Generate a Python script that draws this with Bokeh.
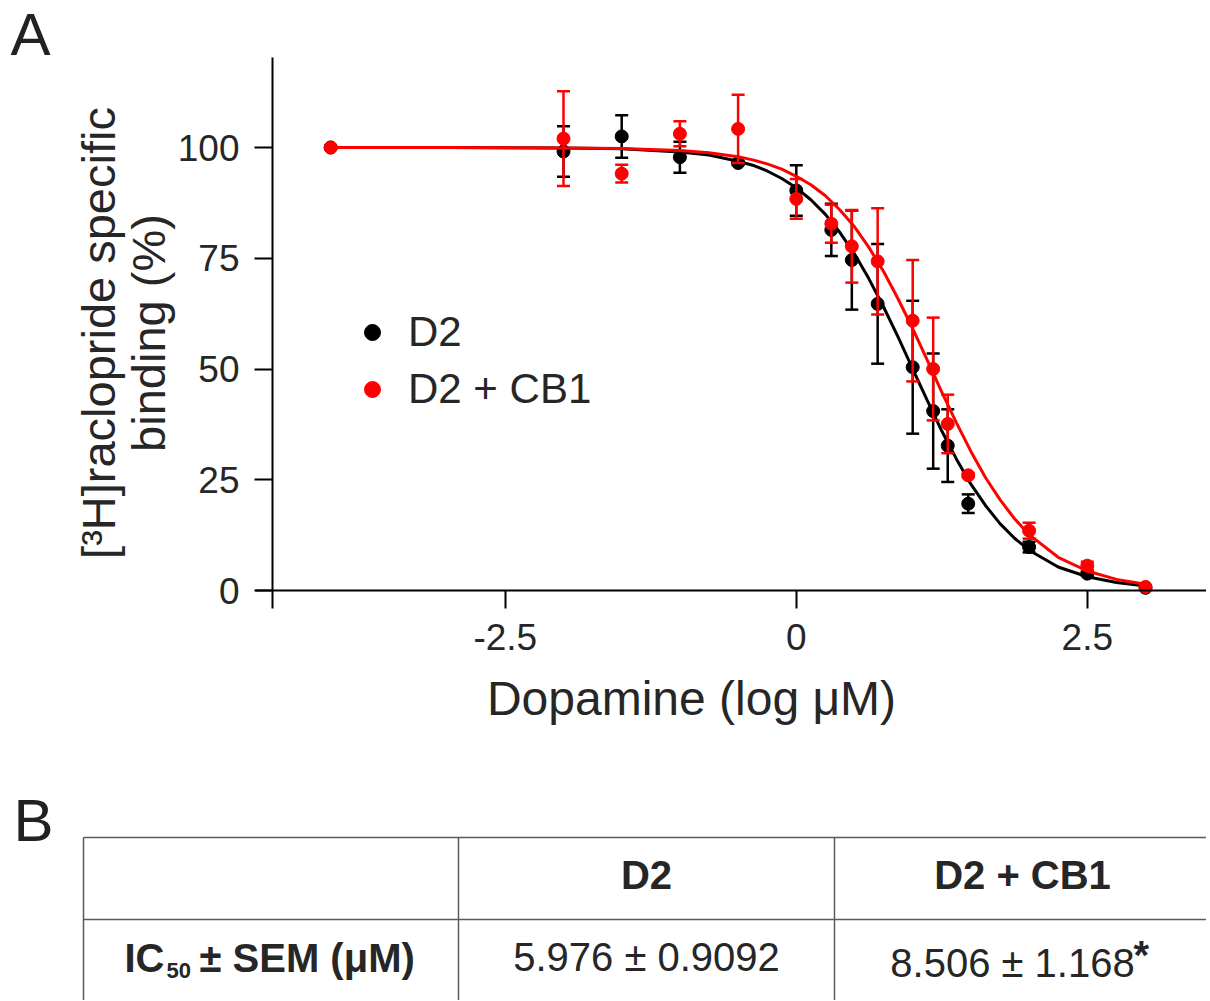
from bokeh.plotting import figure
from bokeh.models import (Range1d, FixedTicker, ColumnDataSource, Legend, LegendItem)
from bokeh.embed import file_html
from bokeh.resources import INLINE
from bokeh.core.properties import value

# ---------------- data ----------------
log_dopamine = [-4, -2, -1.5, -1, -0.5, 0, 0.301, 0.477, 0.699, 1.0, 1.176, 1.301, 1.477, 2.0, 2.5, 3.0]
d2_mean = [100, 99.1, 102.5, 97.8, 96.5, 90.3, 81.4, 74.6, 64.7, 50.4, 40.5, 32.7, 19.6, 9.8, 3.8, 0.6]
d2_sem = [0, 5.7, 4.8, 3.5, 0.4, 5.7, 5.9, 11.2, 13.5, 15.0, 13.0, 8.2, 2.1, 1.2, 0.5, 0.3]
cb1_mean = [100, 102.0, 94.1, 103.1, 104.2, 88.4, 82.8, 77.7, 74.3, 60.9, 50.0, 37.6, 26.0, 13.5, 5.6, 0.8]
cb1_sem = [0, 10.7, 2.0, 2.8, 7.7, 4.5, 4.3, 8.2, 12.0, 13.7, 11.6, 6.6, 0.4, 1.8, 0.9, 0.3]

fit_log_dopamine = [-4, -3, -2, -1.5, -1, -0.75, -0.5, -0.375, -0.25, -0.125, 0, 0.125, 0.25,
                    0.375, 0.5, 0.625, 0.75, 0.875, 1.0, 1.125, 1.25, 1.375, 1.5, 1.625, 1.75,
                    1.875, 2.0, 2.25, 2.5, 2.75, 3.0]
d2_fit = [100, 100, 99.9, 99.7, 99.0, 98.3, 96.9, 96.0, 94.7, 93.0, 90.9, 88.2, 84.9,
          80.8, 76.0, 70.3, 64.0, 57.2, 50.0, 42.9, 36.0, 29.7, 24.0, 19.2, 15.1,
          11.8, 9.1, 5.3, 3.1, 1.8, 1.0]
cb1_fit = [100, 100, 99.9, 99.8, 99.3, 98.8, 97.9, 97.2, 96.3, 95.1, 93.5, 91.6, 89.1,
           85.9, 82.1, 77.4, 72.0, 65.8, 59.1, 52.0, 44.8, 37.9, 31.4, 25.5, 20.5,
           16.2, 12.6, 7.5, 4.4, 2.5, 1.4]

series_labels = ["D2", "D2 + CB1"]
x_ticks = [-2.5, 0, 2.5]
x_tick_labels = {-2.5: "-2.5", 0: "0", 2.5: "2.5"}
y_ticks = [0, 25, 50, 75, 100]
x_title = "Dopamine (log \u03bcM)"
y_title = "[\u00b3H]raclopride specific\nbinding (%)"

table_header = ["", "D2", "D2 + CB1"]
row_label_parts = ["IC", "50", "\u00b1 SEM (\u03bcM)"]
ic50_text = ["5.976 \u00b1 0.9092", "8.506 \u00b1 1.168"]
ic50_marks = ["", "*"]

FONT = "Liberation Sans"
TXT = "#262626"
RED = "#ff0000"
BLACK = "#000000"

W, H = 1206, 1000
# page geometry (pixels) -> data ranges
X0_PX, X_PX_PER_UNIT = 795.8, 116.4
Y0_PX, Y_PX_PER_UNIT = 590.0, 4.43

p = figure(width=W, height=H, output_backend="svg", toolbar_location=None,
           x_range=Range1d(-X0_PX / X_PX_PER_UNIT, (W - X0_PX) / X_PX_PER_UNIT),
           y_range=Range1d((Y0_PX - H) / Y_PX_PER_UNIT, Y0_PX / Y_PX_PER_UNIT),
           min_border=0)
p.extra_x_ranges["page"] = Range1d(0, W)
p.extra_y_ranges["page"] = Range1d(H, 0)
p.outline_line_color = None
p.grid.visible = False
p.background_fill_color = "white"
p.border_fill_color = "white"

# x axis
xa = p.xaxis[0]
xa.fixed_location = 0
xa.bounds = (-4.646, (W - X0_PX) / X_PX_PER_UNIT)
xa.ticker = FixedTicker(ticks=x_ticks)
xa.major_label_overrides = x_tick_labels
xa.minor_tick_line_color = None
xa.major_tick_in = 0
xa.major_tick_out = 18
xa.major_tick_line_width = 2
xa.axis_line_width = 2
xa.axis_line_color = BLACK
xa.major_tick_line_color = BLACK
xa.major_label_standoff = 15
xa.major_label_text_font = FONT
xa.major_label_text_font_size = "37px"
xa.major_label_text_color = TXT

# y axis
ya = p.yaxis[0]
ya.fixed_location = -4.5
ya.bounds = (-18 / Y_PX_PER_UNIT, 120.3)
ya.ticker = FixedTicker(ticks=y_ticks)
ya.minor_tick_line_color = None
ya.axis_line_width = 2
ya.axis_line_color = BLACK
ya.major_tick_in = 0
ya.major_tick_out = 18
ya.major_tick_line_width = 2
ya.major_tick_line_color = BLACK
ya.major_label_standoff = 15
ya.major_label_text_font = FONT
ya.major_label_text_font_size = "37px"
ya.major_label_text_color = TXT
ya.axis_label = y_title
ya.axis_label_text_font = FONT
ya.axis_label_text_font_size = "47px"
ya.axis_label_text_font_style = "normal"
ya.axis_label_text_color = TXT
ya.axis_label_text_line_height = 0.93
ya.axis_label_standoff = 0


def lower(m, s):
    return [a - b for a, b in zip(m, s)]


def upper(m, s):
    return [a + b for a, b in zip(m, s)]


renderers = []
for mean, sem, fit, col in [(d2_mean, d2_sem, d2_fit, BLACK), (cb1_mean, cb1_sem, cb1_fit, RED)]:
    src = ColumnDataSource(dict(x=log_dopamine, y=mean, lo=lower(mean, sem), hi=upper(mean, sem)))
    p.segment(x0="x", y0="lo", x1="x", y1="hi", source=src, line_color=col, line_width=2.5)
    p.scatter(x="x", y="lo", source=src, marker="dash", size=13, line_color=col, line_width=2.5)
    p.scatter(x="x", y="hi", source=src, marker="dash", size=13, line_color=col, line_width=2.5)
    p.line(fit_log_dopamine, fit, line_color=col, line_width=3)
    r = p.scatter(x="x", y="y", source=src, marker="circle", size=13,
                  fill_color=col, line_color=col, line_width=1)
    renderers.append(r)

legend = Legend(items=[LegendItem(label=series_labels[0], renderers=[renderers[0]]),
                       LegendItem(label=series_labels[1], renderers=[renderers[1]])],
                location=(352, H - 413), orientation="vertical",
                glyph_width=40, glyph_height=40, label_height=40, label_standoff=16,
                spacing=9, padding=0, margin=0,
                border_line_color=None, background_fill_alpha=0,
                label_text_font=FONT, label_text_font_size="42px", label_text_color=TXT)
p.add_layout(legend)

PAGE = dict(x_range_name="page", y_range_name="page")

# x-axis title (positioned as in the original figure)
p.text(x=[691], y=[698], text=[x_title], text_font=value(FONT), text_font_size="48px",
       text_color=TXT, text_align="center", text_baseline="middle", **PAGE)

# panel letters
p.text(x=[10, 13], y=[34, 820], text=["A", "B"], text_font=value(FONT), text_font_size="60px",
       text_color="#222222", text_align="left", text_baseline="middle", **PAGE)

# ---------------- table (page pixel coordinates) ----------------
row_top, row_mid, row_bot = 837, 919, 1010
col_edges = [83, 458, 834, 1215]
p.segment(x0=[col_edges[0]] * 2, y0=[row_top, row_mid], x1=[col_edges[-1]] * 2, y1=[row_top, row_mid],
          line_color="#5a5a5a", line_width=1.5, **PAGE)
p.segment(x0=col_edges, y0=[row_top] * 4, x1=col_edges, y1=[row_bot] * 4,
          line_color="#5a5a5a", line_width=1.5, **PAGE)

col_centers = [270.5, 646, 1022]
p.text(x=col_centers[1:], y=[874, 874], text=table_header[1:], text_font=value(FONT),
       text_font_size="40px", text_font_style="bold", text_color=TXT,
       text_align="center", text_baseline="middle", **PAGE)
# row label: IC + subscript 50 + rest
p.text(x=[124, 199], y=[957, 957], text=[row_label_parts[0], row_label_parts[2]],
       text_font=value(FONT), text_font_size="40px", text_font_style="bold", text_color=TXT,
       text_align="left", text_baseline="middle", **PAGE)
p.text(x=[166], y=[970], text=[row_label_parts[1]], text_font=value(FONT),
       text_font_size="22px", text_font_style="bold", text_color=TXT,
       text_align="left", text_baseline="middle", **PAGE)
p.text(x=[646, 1012], y=[956, 962], text=ic50_text, text_font=value(FONT),
       text_font_size="40px", text_color=TXT, text_align="center", text_baseline="middle", **PAGE)
p.text(x=[1133], y=[954], text=[ic50_marks[1]], text_font=value(FONT),
       text_font_size="40px", text_font_style="bold", text_color=TXT,
       text_align="left", text_baseline="middle", **PAGE)

open("out.html", "w").write(file_html(p, INLINE))
